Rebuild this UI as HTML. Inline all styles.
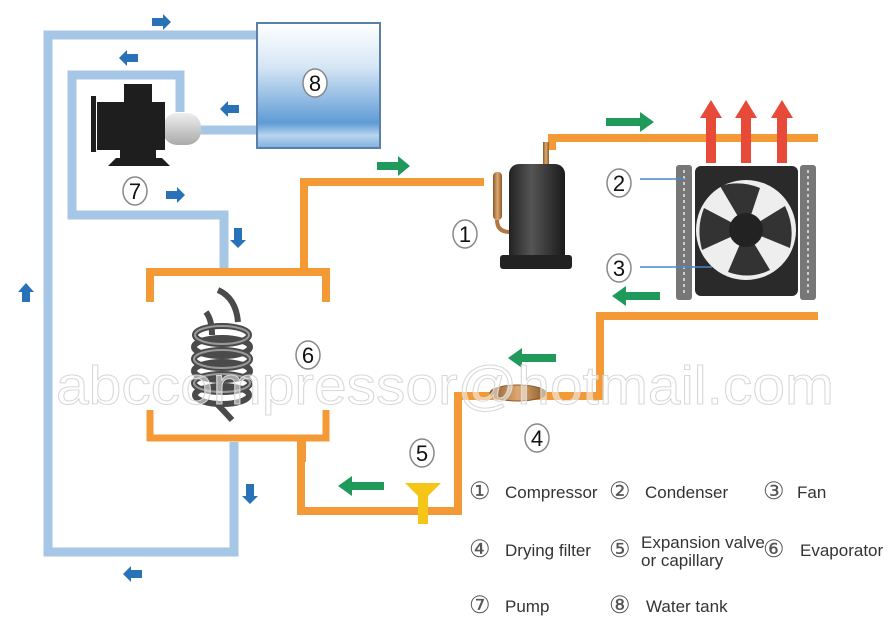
<!DOCTYPE html>
<html><head><meta charset="utf-8"><style>
html,body{margin:0;padding:0;background:#fff;width:888px;height:627px;overflow:hidden}
svg{display:block}
text{font-family:"Liberation Sans",sans-serif}
.n{font-family:"Liberation Serif",serif;font-size:22px}
.lg{font-size:17px;fill:#333}
.c{font-size:24px;fill:#555;font-family:"DejaVu Sans",sans-serif;font-weight:200}
</style></head><body>
<svg width="888" height="627" viewBox="0 0 888 627" xmlns="http://www.w3.org/2000/svg">
<defs>
<linearGradient id="tank" x1="0" y1="0" x2="0" y2="1">
<stop offset="0" stop-color="#ffffff"/><stop offset="0.35" stop-color="#d6e6f5"/><stop offset="0.8" stop-color="#5f9bd6"/><stop offset="0.9" stop-color="#b9d4ee"/><stop offset="1" stop-color="#7fb0e0"/></linearGradient>
<linearGradient id="cyl" x1="0" y1="0" x2="1" y2="0">
<stop offset="0" stop-color="#222"/><stop offset="0.4" stop-color="#555"/><stop offset="1" stop-color="#1a1a1a"/></linearGradient>
<linearGradient id="mot" x1="0" y1="0" x2="0" y2="1"><stop offset="0" stop-color="#eee"/><stop offset="1" stop-color="#aaa"/></linearGradient>
<linearGradient id="cu" x1="0" y1="0" x2="1" y2="0"><stop offset="0" stop-color="#8a5a2b"/><stop offset="0.5" stop-color="#e0a870"/><stop offset="1" stop-color="#8a5a2b"/></linearGradient>
</defs>
<g stroke="#a6c6e6" stroke-width="9" fill="none">
<polyline points="258,35 48,35 48,552 234,552 234,442"/>
<polyline points="180,112 180,75 72,75 72,215 224,215 224,268"/>
<line x1="196" y1="130" x2="258" y2="130"/>
</g>
<rect x="257" y="23" width="123" height="125" fill="url(#tank)" stroke="#5a7fa8" stroke-width="2"/>
<rect x="163" y="113" width="38" height="32" rx="14" fill="url(#mot)"/>
<g fill="#1e1e1e">
<rect x="124" y="84" width="28" height="20"/>
<rect x="97" y="102" width="68" height="48"/>
<rect x="91" y="96" width="5" height="56"/>
<rect x="120" y="148" width="36" height="12"/>
<polygon points="108,166 170,166 162,158 116,158"/>
</g>
<g fill="#2a72b8">
<polygon points="152,18 163,18 163,14 171,22 163,30 163,26 152,26"/>
<polygon points="138,54 127,54 127,50 119,58 127,66 127,62 138,62"/>
<polygon points="239,105 228,105 228,101 220,109 228,117 228,113 239,113"/>
<polygon points="166,191 177,191 177,187 185,195 177,203 177,199 166,199"/>
<polygon points="234,228 234,240 230,240 238,248 246,240 242,240 242,228"/>
<polygon points="246,484 246,496 242,496 250,504 258,496 254,496 254,484"/>
<polygon points="142,570 131,570 131,566 123,574 131,582 131,578 142,578"/>
<polygon points="22,302 22,292 18,292 26,283 34,292 30,292 30,302"/>
</g>
<g stroke="#f39a36" stroke-width="8" fill="none">
<polyline points="150,302 150,272 326,272 326,302"/>
<polyline points="304,272 304,182 484,182"/>
<polyline points="552,150 552,138 818,138"/>
<polyline points="818,316 600,316 600,396 462,396 458,396 458,511 301,511 301,450"/>
<polyline points="150,410 150,438 326,438 326,410" stroke-width="7"/>
</g>
<rect x="297" y="440" width="9" height="22" fill="#f39a36"/>
<g fill="#1f9a5a">
<polygon points="377,162 398,162 398,156 410,166 398,176 398,170 377,170"/>
<polygon points="606,118 640,118 640,112 654,122 640,132 640,126 606,126"/>
<polygon points="660,292 626,292 626,286 612,296 626,306 626,300 660,300"/>
<polygon points="556,354 522,354 522,348 508,358 522,368 522,362 556,362"/>
<polygon points="384,482 352,482 352,476 338,486 352,496 352,490 384,490"/>
</g>
<g fill="#e84a3a">
<polygon points="706,163 706,118 700,118 711,100 722,118 716,118 716,163"/>
<polygon points="741,163 741,118 735,118 746,100 757,118 751,118 751,163"/>
<polygon points="777,163 777,118 771,118 782,100 793,118 787,118 787,163"/>
</g>
<rect x="493" y="172" width="9" height="48" rx="4" fill="url(#cu)"/>
<path d="M497 220 Q497 232 510 232" stroke="#b07840" stroke-width="4" fill="none"/>
<rect x="543" y="142" width="6" height="24" fill="url(#cu)"/>
<rect x="509" y="164" width="56" height="100" rx="10" fill="url(#cyl)"/>
<rect x="500" y="255" width="72" height="14" rx="3" fill="#222"/>
<g fill="#777">
<rect x="676" y="165" width="16" height="135" rx="3"/>
<rect x="800" y="165" width="16" height="135" rx="3"/>
</g>
<g stroke="#ccc" stroke-width="2" stroke-dasharray="3 3"><line x1="684" y1="170" x2="684" y2="296"/><line x1="808" y1="170" x2="808" y2="296"/></g>
<rect x="695" y="166" width="103" height="130" rx="6" fill="#2a2a2a"/>
<circle cx="746" cy="230" r="50" fill="#eee"/>
<g fill="#333">
<path d="M746 230 L720 186 Q740 180 760 188 Z"/>
<path d="M746 230 L785 206 Q795 226 790 248 Z"/>
<path d="M746 230 L770 270 Q750 280 728 272 Z"/>
<path d="M746 230 L702 250 Q696 228 704 208 Z"/>
</g>
<circle cx="746" cy="230" r="17" fill="#222"/>
<g stroke="#4a86c5" stroke-width="1.5"><line x1="640" y1="179" x2="684" y2="179"/><line x1="640" y1="267" x2="712" y2="267"/></g>
<!-- evaporator coil -->
<g fill="none" stroke="#4a4a4a" stroke-width="6">
<path d="M218 290 Q236 298 238 322"/><path d="M206 312 Q212 320 212 335"/>
<ellipse cx="222" cy="335" rx="27" ry="9"/><ellipse cx="222" cy="347" rx="28" ry="9"/><ellipse cx="222" cy="359" rx="28" ry="9"/><ellipse cx="222" cy="371" rx="28" ry="9"/><ellipse cx="222" cy="383" rx="28" ry="9"/><ellipse cx="222" cy="395" rx="27" ry="9"/>
<path d="M215 402 Q225 412 232 420"/>
</g>
<g fill="none" stroke="#999" stroke-width="2">
<ellipse cx="222" cy="335" rx="27" ry="9"/><ellipse cx="222" cy="359" rx="28" ry="9"/><ellipse cx="222" cy="383" rx="28" ry="9"/>
</g>
<ellipse cx="518" cy="393" rx="28" ry="8" fill="url(#cu)" stroke="#8a5a2b"/>
<polygon points="405,483 441,483 428,496 418,496" fill="#f5c518"/>
<rect x="418" y="494" width="10" height="30" fill="#f5c518"/>
<text x="56" y="404" font-size="54" fill="#fff" fill-opacity="0.5" stroke="#d8d8d8" stroke-width="1" font-family="DejaVu Sans, sans-serif" font-weight="200" textLength="778" lengthAdjust="spacingAndGlyphs">abccompressor@hotmail.com</text>
<g fill="#fff" stroke="#888" stroke-width="1.5">
<ellipse cx="315" cy="83" rx="12" ry="14"/><ellipse cx="135" cy="191" rx="12" ry="14"/><ellipse cx="465" cy="234" rx="12" ry="14"/><ellipse cx="619" cy="183" rx="12" ry="14"/><ellipse cx="619" cy="268" rx="12" ry="14"/><ellipse cx="308" cy="355" rx="12" ry="14"/><ellipse cx="537" cy="438" rx="12" ry="14"/><ellipse cx="422" cy="453" rx="12" ry="14"/>
</g>
<g class="n" text-anchor="middle" fill="#111">
<text x="315" y="91">8</text><text x="135" y="199">7</text><text x="465" y="242">1</text><text x="619" y="191">2</text><text x="619" y="276">3</text><text x="308" y="363">6</text><text x="537" y="446">4</text><text x="422" y="461">5</text>
</g>
<g class="lg">
<text class="c" x="469" y="499">①</text><text x="505" y="498">Compressor</text>
<text class="c" x="609" y="499">②</text><text x="645" y="498">Condenser</text>
<text class="c" x="763" y="499">③</text><text x="797" y="498">Fan</text>
<text class="c" x="469" y="557">④</text><text x="505" y="556">Drying filter</text>
<text class="c" x="609" y="557">⑤</text><text x="641" y="548">Expansion valve</text><text x="641" y="566">or capillary</text>
<text class="c" x="763" y="557">⑥</text><text x="800" y="556">Evaporator</text>
<text class="c" x="469" y="613">⑦</text><text x="505" y="612">Pump</text>
<text class="c" x="609" y="613">⑧</text><text x="646" y="612">Water tank</text>
</g>
</svg>
</body></html>
